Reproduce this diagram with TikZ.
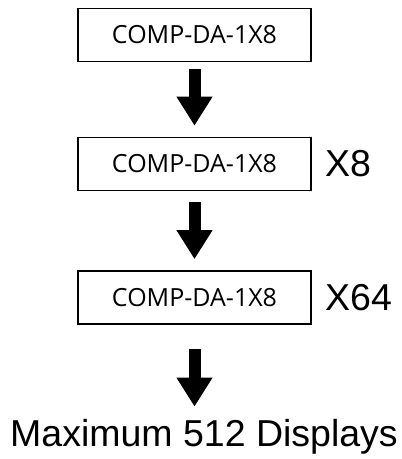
\documentclass[tikz,border=0pt]{standalone}
\usepackage{fontspec}
\setmainfont{Liberation Sans}
\newfontfamily\boxfont{Open Sans}
\usetikzlibrary{arrows.meta}

\begin{document}
\begin{tikzpicture}[x=1pt,y=1pt,
    unitbox/.style={draw=black,line width=1.6pt,minimum width=233pt,minimum height=53pt,inner sep=0pt,font=\boxfont\fontsize{25}{25}\selectfont},
    mult/.style={anchor=west,inner sep=0pt,font=\fontsize{37.5}{37.5}\selectfont},
    bigarrow/.style={line width=12pt,-{Triangle[length=29pt,width=34pt]}}]
            \useasboundingbox (0,0) rectangle (402,-459);
            \node [unitbox] (da1) at (194.5,-35) {COMP-DA-1X8};
            \node [unitbox] (da2) at (194.5,-164) {COMP-DA-1X8};
            \node [unitbox] (da3) at (194.5,-297.5) {COMP-DA-1X8};
            \node [mult] (x8) at (325,-163.5) {X8};
            \node [mult] (x64) at (325,-297.5) {X64};
            \node [inner sep=0pt,anchor=base,font=\fontsize{37.5}{37.5}\selectfont] (total) at (204,-446) {Maximum 512 Displays};
            \coordinate (endpt) at (da3.south |- total.north);
            \draw [bigarrow] ([yshift=-7pt]da1.south) -- ([yshift=11pt]da2.north);
            \draw [bigarrow] ([yshift=-11pt]da2.south) -- ([yshift=11pt]da3.north);
            \draw [bigarrow] ([yshift=-24pt]da3.south) -- ([yshift=12pt]endpt);
\end{tikzpicture}
\end{document}
